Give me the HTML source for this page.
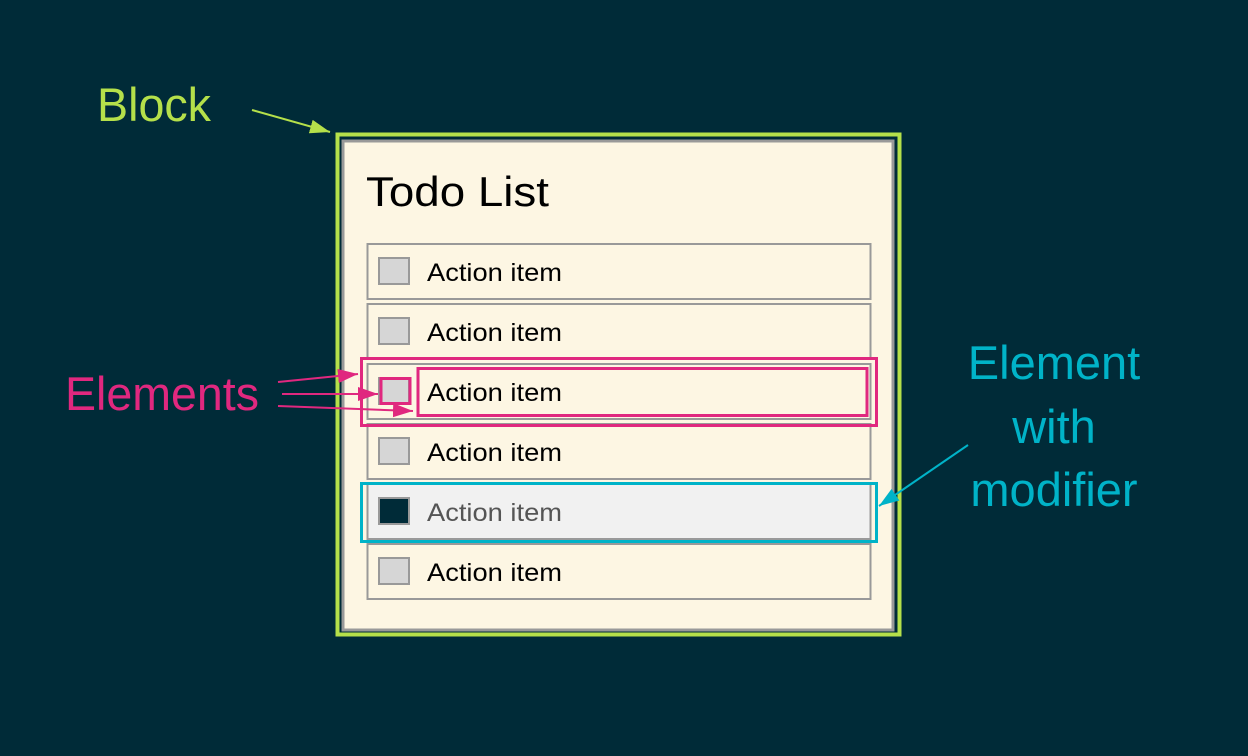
<!DOCTYPE html>
<html><head><meta charset="utf-8"><style>
html,body{margin:0;padding:0;background:#002b38;}
svg{display:block}
text{font-family:"Liberation Sans",sans-serif;}
</style></head><body>
<svg width="1248" height="756" viewBox="0 0 1248 756" xmlns="http://www.w3.org/2000/svg">
<defs>
<marker id="ag" viewBox="0 0 20 14" refX="20" refY="7" markerWidth="20" markerHeight="14" markerUnits="userSpaceOnUse" orient="auto"><path d="M0,0L20,7L0,14z" fill="#b5e04a"/></marker>
<marker id="ap" viewBox="0 0 20 14" refX="20" refY="7" markerWidth="20" markerHeight="14" markerUnits="userSpaceOnUse" orient="auto"><path d="M0,0L20,7L0,14z" fill="#e0287f"/></marker>
<marker id="ac" viewBox="0 0 20 14" refX="20" refY="7" markerWidth="20" markerHeight="14" markerUnits="userSpaceOnUse" orient="auto"><path d="M0,0L20,7L0,14z" fill="#00b3c8"/></marker>
</defs>
<rect width="1248" height="756" fill="#002b38"/>
<rect x="337.5" y="134.5" width="562" height="500" fill="none" stroke="#b5e04a" stroke-width="4"/>
<rect x="343" y="141" width="550" height="489" fill="#fdf6e3" stroke="#999" stroke-width="3"/>
<text x="366" y="206" font-size="42" fill="#000" textLength="183" lengthAdjust="spacingAndGlyphs">Todo List</text>
<g font-size="25" fill="#000">
<rect x="367.5" y="244" width="503" height="55" fill="none" stroke="#999" stroke-width="2"/>
<rect x="379" y="258" width="30" height="26" fill="#d6d6d6" stroke="#999" stroke-width="2"/>
<text x="427" y="281" textLength="135" lengthAdjust="spacingAndGlyphs">Action item</text>
<rect x="367.5" y="304" width="503" height="55" fill="none" stroke="#999" stroke-width="2"/>
<rect x="379" y="318" width="30" height="26" fill="#d6d6d6" stroke="#999" stroke-width="2"/>
<text x="427" y="341" textLength="135" lengthAdjust="spacingAndGlyphs">Action item</text>
<rect x="367.5" y="364" width="503" height="55" fill="none" stroke="#999" stroke-width="2"/>
<rect x="379" y="378" width="30" height="26" fill="#d6d6d6" stroke="#999" stroke-width="2"/>
<text x="427" y="401" textLength="135" lengthAdjust="spacingAndGlyphs">Action item</text>
<rect x="367.5" y="424" width="503" height="55" fill="none" stroke="#999" stroke-width="2"/>
<rect x="379" y="438" width="30" height="26" fill="#d6d6d6" stroke="#999" stroke-width="2"/>
<text x="427" y="461" textLength="135" lengthAdjust="spacingAndGlyphs">Action item</text>
<rect x="367.5" y="484" width="503" height="55" fill="#f1f1f1" stroke="#999" stroke-width="2"/>
<rect x="379" y="498" width="30" height="26" fill="#002b38" stroke="#999" stroke-width="2"/>
<text x="427" y="521" fill="#555" textLength="135" lengthAdjust="spacingAndGlyphs">Action item</text>
<rect x="367.5" y="544" width="503" height="55" fill="none" stroke="#999" stroke-width="2"/>
<rect x="379" y="558" width="30" height="26" fill="#d6d6d6" stroke="#999" stroke-width="2"/>
<text x="427" y="581" textLength="135" lengthAdjust="spacingAndGlyphs">Action item</text>
</g>
<rect x="361.5" y="358.5" width="515" height="67" fill="none" stroke="#e0287f" stroke-width="3"/>
<rect x="418" y="368.5" width="449" height="47" fill="none" stroke="#e0287f" stroke-width="3"/>
<rect x="381" y="378.5" width="29" height="25" fill="none" stroke="#e0287f" stroke-width="3"/>
<rect x="361.5" y="483.5" width="515" height="58" fill="none" stroke="#00b3c8" stroke-width="3"/>
<text x="97" y="121" font-size="47" fill="#b5e04a" textLength="114" lengthAdjust="spacingAndGlyphs">Block</text>
<line x1="252" y1="110" x2="330" y2="132" stroke="#b5e04a" stroke-width="2" marker-end="url(#ag)"/>
<text x="65" y="410" font-size="47" fill="#e0287f" textLength="194" lengthAdjust="spacingAndGlyphs">Elements</text>
<line x1="278" y1="382" x2="358" y2="374" stroke="#e0287f" stroke-width="2" marker-end="url(#ap)"/>
<line x1="282" y1="394" x2="378" y2="394" stroke="#e0287f" stroke-width="2" marker-end="url(#ap)"/>
<line x1="278" y1="406" x2="413" y2="411" stroke="#e0287f" stroke-width="2" marker-end="url(#ap)"/>
<g font-size="47" fill="#00b3c8" text-anchor="middle">
<text x="1054" y="379">Element</text>
<text x="1054" y="443">with</text>
<text x="1054" y="506">modifier</text>
</g>
<line x1="968" y1="445" x2="879" y2="506" stroke="#00b3c8" stroke-width="2" marker-end="url(#ac)"/>
</svg>
</body></html>
